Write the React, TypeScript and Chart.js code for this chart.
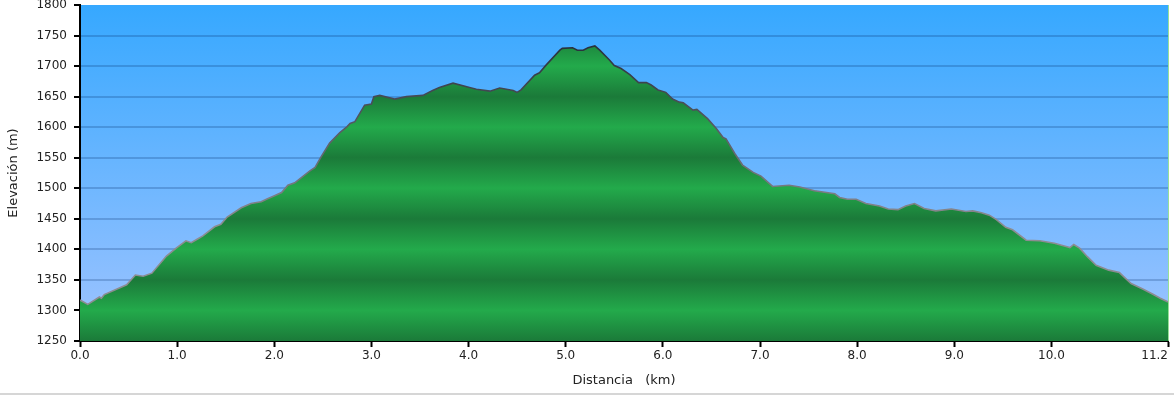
import { useEffect, useRef } from 'react';
import { Chart, registerables } from 'chart.js';

Chart.register(...registerables);

const distanceKm = [
  0, 0.08, 0.2, 0.22, 0.25, 0.48, 0.57, 0.65, 0.74, 0.89, 0.99, 1.09, 1.145, 1.21, 1.265, 1.385, 1.45, 1.515,
  1.66, 1.76, 1.865, 1.93, 1.99, 2.075, 2.14, 2.21, 2.37, 2.42, 2.48, 2.57, 2.675, 2.75, 2.78, 2.83, 2.93, 3.0,
  3.025, 3.086, 3.24, 3.36, 3.53, 3.63, 3.7, 3.84, 4.01, 4.08, 4.22, 4.32, 4.46, 4.5, 4.54, 4.68, 4.73, 4.8,
  4.94, 4.965, 5.07, 5.12, 5.18, 5.23, 5.3, 5.35, 5.45, 5.5, 5.57, 5.66, 5.75, 5.83, 5.88, 5.95, 6.03, 6.1,
  6.17, 6.21, 6.31, 6.35, 6.46, 6.55, 6.62, 6.65, 6.74, 6.82, 6.93, 7.01, 7.13, 7.3, 7.41, 7.56, 7.77, 7.82,
  7.9, 7.99, 8.09, 8.23, 8.32, 8.42, 8.5, 8.59, 8.69, 8.81, 8.97, 9.12, 9.19, 9.28, 9.36, 9.43, 9.53, 9.6,
  9.74, 9.88, 10.03, 10.17, 10.19, 10.23, 10.29, 10.37, 10.46, 10.59, 10.7, 10.76, 10.82, 10.94, 11.04, 11.12, 11.2,
];

const elevationM = [
  1317, 1310, 1322, 1320, 1326, 1342, 1358, 1356, 1361, 1389, 1402, 1414, 1411, 1417, 1422, 1437, 1441, 1453,
  1468, 1475, 1478, 1483, 1487, 1493, 1505, 1509, 1529, 1534, 1551, 1574, 1591, 1601, 1606, 1609, 1636, 1638,
  1650, 1652, 1646, 1650, 1652, 1660, 1665, 1672, 1665, 1662, 1659, 1664, 1660, 1657, 1661, 1685, 1689, 1702,
  1726, 1729, 1730, 1726, 1726, 1730, 1733, 1726, 1710, 1701, 1696, 1686, 1673, 1673, 1669, 1661, 1657, 1646,
  1641, 1640, 1628, 1629, 1614, 1598, 1583, 1581, 1557, 1538, 1526, 1520, 1503, 1505, 1502, 1496, 1491, 1485,
  1482, 1482, 1475, 1471, 1466, 1465, 1471, 1475, 1467, 1463, 1466, 1462, 1463, 1460, 1456, 1449, 1436, 1432,
  1415, 1414, 1410, 1404, 1403, 1408, 1402, 1388, 1374, 1366, 1362, 1353, 1344, 1335, 1327, 1320, 1314,
];

const xTickValues = [0, 1, 2, 3, 4, 5, 6, 7, 8, 9, 10, 11.2];
const yMin = 1250;
const yMax = 1800;
const yStep = 50;

const FONT = 'DejaVu Sans, Verdana, sans-serif';

function fillGradient(chart: any) {
  const { ctx, chartArea, scales } = chart;
  if (!chartArea || !scales.y) return 'rgb(34,170,75)';
  const y = scales.y;
  const top = y.getPixelForValue(yMax);
  const bottom = y.getPixelForValue(yMin);
  const g = ctx.createLinearGradient(0, top, 0, bottom);
  for (let v = yMin; v <= yMax; v += yStep) {
    const p = (y.getPixelForValue(v) - top) / (bottom - top);
    g.addColorStop(Math.min(1, Math.max(0, p)), v % 100 === 0 ? 'rgb(35,170,75)' : 'rgb(27,122,57)');
  }
  return g;
}

function lineGradient(chart: any) {
  const { ctx, chartArea } = chart;
  if (!chartArea) return '#333';
  const g = ctx.createLinearGradient(0, chartArea.top + 40, 0, chartArea.top + 220);
  g.addColorStop(0, 'rgb(40,48,60)');
  g.addColorStop(1, 'rgb(140,140,145)');
  return g;
}

const bgPlugin = {
  id: 'bgPlugin',
  beforeDraw(chart: any) {
    const { ctx, chartArea } = chart;
    if (!chartArea) return;
    const g = ctx.createLinearGradient(0, chartArea.top, 0, chartArea.bottom);
    g.addColorStop(0, 'rgb(54,168,255)');
    g.addColorStop(1, 'rgb(160,196,255)');
    ctx.save();
    ctx.fillStyle = g;
    ctx.fillRect(chartArea.left, chartArea.top, chartArea.right - chartArea.left, chartArea.bottom - chartArea.top);
    ctx.restore();
  },
  afterDraw(chart: any) {
    const { ctx, chartArea } = chart;
    if (!chartArea) return;
    ctx.save();
    ctx.strokeStyle = 'rgba(140,220,140,0.9)';
    ctx.lineWidth = 1;
    ctx.beginPath();
    ctx.moveTo(chartArea.right + 0.5, chartArea.top);
    ctx.lineTo(chartArea.right + 0.5, chartArea.bottom);
    ctx.stroke();
    ctx.restore();
  },
};

export default function App() {
  const canvasRef = useRef<HTMLCanvasElement | null>(null);

  useEffect(() => {
    const canvas = canvasRef.current;
    if (!canvas) return;
    const points = distanceKm.map((d, i) => ({ x: d, y: elevationM[i] }));
    const chart = new Chart(canvas, {
      type: 'line',
      data: {
        datasets: [
          {
            data: points,
            fill: 'start',
            backgroundColor: (c: any) => fillGradient(c.chart),
            borderColor: (c: any) => lineGradient(c.chart),
            borderWidth: 1.6,
            pointRadius: 0,
            tension: 0,
          },
        ],
      },
      options: {
        animation: false,
        responsive: false,
        maintainAspectRatio: false,
        devicePixelRatio: 1,
        layout: { padding: { left: 0, right: 6, top: 5, bottom: 0 } },
        plugins: { legend: { display: false }, tooltip: { enabled: false } },
        scales: {
          x: {
            type: 'linear',
            min: 0,
            max: 11.2,
            afterBuildTicks: (s: any) => {
              s.ticks = xTickValues.map((v) => ({ value: v }));
            },
            afterFit: (s: any) => {
              s.height = 51;
              s.paddingLeft = 0;
              s.paddingRight = 0;
            },
            ticks: {
              autoSkip: false,
              maxRotation: 0,
              padding: 2,
              color: '#222',
              font: { family: FONT, size: 12 },
              callback: (v: any) => {
                const n = Number(v);
                return n === 11.2 ? '11.2' + '\u00a0'.repeat(7) : n.toFixed(1);
              },
            },
            grid: { drawOnChartArea: false, tickLength: 6, tickColor: '#000', tickWidth: 2 },
            border: { display: true, color: '#000', width: 2 },
            title: {
              display: true,
              text: 'Distancia   (km)',
              color: '#222',
              font: { family: FONT, size: 13 },
              padding: { top: 0, bottom: 4 },
            },
          },
          y: {
            min: yMin,
            max: yMax,
            z: 1,
            afterFit: (s: any) => {
              s.width = 80;
              s.paddingTop = 0;
              s.paddingBottom = 0;
            },
            ticks: {
              stepSize: yStep,
              padding: 7,
              color: '#222',
              font: { family: FONT, size: 12 },
              callback: (v: any) => String(v),
            },
            grid: {
              color: (c: any) =>
                c.tick && (c.tick.value === yMin || c.tick.value === yMax) ? 'rgba(0,0,0,0)' : 'rgba(0,40,100,0.22)',
              lineWidth: 2,
              tickLength: 6,
              tickColor: '#000',
              tickWidth: 2,
            },
            border: { display: true, color: '#000', width: 2 },
            title: {
              display: true,
              text: 'Elevación (m)',
              color: '#222',
              font: { family: FONT, size: 13 },
              padding: { top: 6, bottom: 0 },
            },
          },
        },
      },
      plugins: [bgPlugin],
    } as any);
    return () => chart.destroy();
  }, []);

  return (
    <div style={{ position: 'fixed', left: 0, top: 0, width: 1174, height: 395, background: '#fff' }}>
      <canvas ref={canvasRef} width={1174} height={392} style={{ display: 'block', width: 1174, height: 392 }} />
      <div style={{ position: 'absolute', left: 0, top: 393, width: 1174, height: 2, background: '#d6d6d6' }} />
    </div>
  );
}
